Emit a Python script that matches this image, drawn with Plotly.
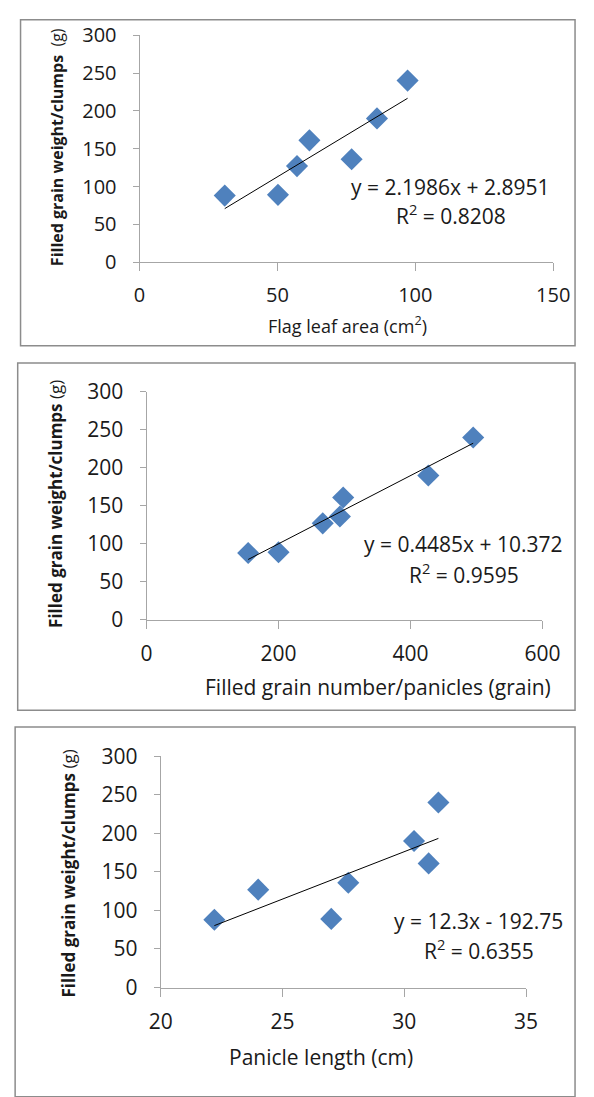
import plotly.graph_objects as go

W, H = 594, 1097

# ---- data ----
grain_weight = [88, 89, 127, 161, 136, 190, 240]          # Filled grain weight/clumps (g)
flag_leaf_area = [30.9, 50.2, 57.1, 61.6, 76.9, 86.1, 97.2]  # cm2
grain_number = [154, 200, 267, 298, 293, 427, 495]          # grain
panicle_length = [22.2, 27.0, 24.0, 31.0, 27.7, 30.4, 31.4]  # cm

slopes = [2.1986, 0.4485, 12.3]
intercepts = [2.8951, 10.372, -192.75]
eq_texts = ["y = 2.1986x + 2.8951", "y = 0.4485x + 10.372", "y = 12.3x - 192.75"]
r2_texts = ["R<sup>2</sup> = 0.8208", "R<sup>2</sup> = 0.9595", "R<sup>2</sup> = 0.6355"]
x_titles = ["Flag leaf area (cm<sup>2</sup>)", "Filled grain number/panicles (grain)", "Panicle length (cm)"]
y_titles = ["<b>Filled grain weight/clumps</b>  (g)", "<b>Filled grain weight/clumps</b> (g)",
            "<b>Filled grain weight/clumps</b> (g)"]
x_ranges = [[0, 150], [0, 600], [20, 35]]
x_dticks = [50, 200, 5]
y_range = [0, 300]
y_dtick = 50

xs = [flag_leaf_area, grain_number, panicle_length]

# ---- layout geometry (pixels) ----
plot_px = [  # left, right, top, bottom
    (134.3, 570.0, 20.7, 253.7),
    (141.7, 558.7, 386.7, 620.7),
    (156.7, 541.4, 760.7, 998.0),
]
borders = [(9, 5, 593, 339.5), (6, 357, 593, 713.5), (3.3, 730.7, 593, 1110)]
xtitle_pos = [(353, 318), (385, 690), (325, 1069)]
xtitle_size = [18, 21, 21]
ytitle_pos = [(47, 136), (45, 502), (60, 881)]
ytitle_size = [16, 17, 17]
tick_size = [20, 21, 21]
eq_pos = [(461, 177), (475, 543), (491, 930)]
r2_pos = [(462, 205), (476, 573), (492, 959)]
eq_size = [21, 21, 21]

def fx(px):
    return px / W

def fy(py):
    return 1 - py / H

FONT = "Open Sans"
TXT = "#1a1a1a"
AX = "#a6a6a6"
BLUE = "#4F81BD"

fig = go.Figure()
annotations = []
shapes = []

for i in range(3):
    xa = "x" if i == 0 else f"x{i+1}"
    ya = "y" if i == 0 else f"y{i+1}"
    x = xs[i]
    fig.add_trace(go.Scatter(
        x=x, y=grain_weight, mode="markers", xaxis=xa, yaxis=ya,
        marker=dict(symbol="diamond", size=17, color=BLUE, line=dict(width=0)),
        showlegend=False, cliponaxis=False))
    x0, x1 = min(x), max(x)
    fig.add_trace(go.Scatter(
        x=[x0, x1], y=[slopes[i] * x0 + intercepts[i], slopes[i] * x1 + intercepts[i]],
        mode="lines", xaxis=xa, yaxis=ya, line=dict(color="#000000", width=1),
        showlegend=False, cliponaxis=False))

    l, r, t, b = plot_px[i]
    axkey = "xaxis" if i == 0 else f"xaxis{i+1}"
    aykey = "yaxis" if i == 0 else f"yaxis{i+1}"
    fig.layout[axkey] = dict(
        domain=[fx(l), fx(r)], range=x_ranges[i], dtick=x_dticks[i], tick0=x_ranges[i][0],
        anchor=ya, showgrid=False, zeroline=False, showline=True, linecolor=AX, linewidth=1,
        ticks="outside", ticklen=8, tickcolor=AX, tickwidth=1,
        tickfont=dict(family=FONT, size=tick_size[i], color=TXT), ticklabelstandoff=7, fixedrange=True)
    fig.layout[aykey] = dict(
        domain=[fy(b), fy(t)], range=y_range, dtick=y_dtick, tick0=0,
        anchor=xa, showgrid=False, zeroline=False, showline=True, linecolor=AX, linewidth=1,
        ticks="outside", ticklen=6, tickcolor=AX, tickwidth=1,
        tickfont=dict(family=FONT, size=tick_size[i], color=TXT), ticklabelstandoff=12, fixedrange=True)

    bx0, by0, bx1, by1 = borders[i]
    shapes.append(dict(type="rect", xref="paper", yref="paper",
                       x0=fx(bx0), x1=fx(bx1), y0=fy(by1), y1=fy(by0),
                       line=dict(color="#8c8c8c", width=1.5), fillcolor="rgba(0,0,0,0)", layer="below"))

    annotations.append(dict(text=x_titles[i], x=fx(xtitle_pos[i][0]), y=fy(xtitle_pos[i][1]),
                            xref="paper", yref="paper", showarrow=False, xanchor="center", yanchor="middle",
                            font=dict(family=FONT, size=xtitle_size[i], color=TXT)))
    annotations.append(dict(text=y_titles[i], x=fx(ytitle_pos[i][0]), y=fy(ytitle_pos[i][1]),
                            xref="paper", yref="paper", showarrow=False, xanchor="center", yanchor="middle",
                            textangle=-90, font=dict(family=FONT, size=ytitle_size[i], color=TXT)))
    annotations.append(dict(text=eq_texts[i], x=fx(eq_pos[i][0]), y=fy(eq_pos[i][1]),
                            xref="paper", yref="paper", showarrow=False, xanchor="center", yanchor="middle",
                            font=dict(family=FONT, size=eq_size[i], color=TXT)))
    annotations.append(dict(text=r2_texts[i], x=fx(r2_pos[i][0]), y=fy(r2_pos[i][1]),
                            xref="paper", yref="paper", showarrow=False, xanchor="center", yanchor="middle",
                            font=dict(family=FONT, size=eq_size[i], color=TXT)))

fig.update_layout(width=W, height=H, margin=dict(l=0, r=0, t=0, b=0),
                  paper_bgcolor="white", plot_bgcolor="white",
                  annotations=annotations, shapes=shapes, showlegend=False)

fig.write_html("out.html", config={"displayModeBar": False},
               post_script="document.body.style.margin='0';document.documentElement.style.overflow='hidden';")
